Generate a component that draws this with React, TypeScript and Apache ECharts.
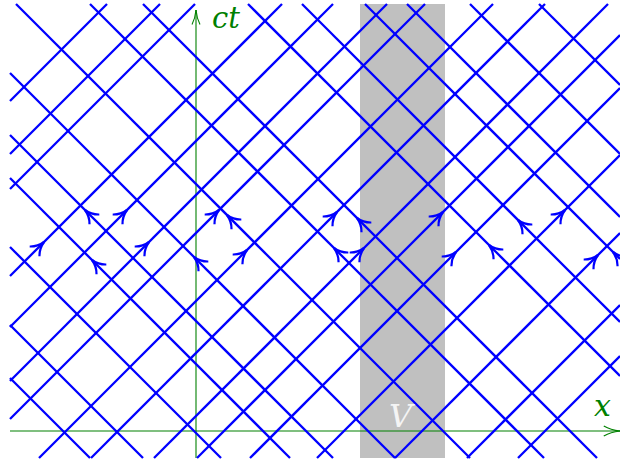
import React, { useEffect, useRef } from "react";
import * as echarts from "echarts";

// Visible window of the spacetime diagram (x, ct) in diagram units
const X_RANGE = [-186, 424];
const T_RANGE = [-27, 427];

// Right-moving light rays: x-intercept at ct = 0, and ct of the arrow tip (null = none)
const rightMovingX0 = [-516, -463, -428, -341, -290, -236, -198, -130, -78, -15, 28, 81, 148, 226, 298, 349];
const rightArrowT = [null, null, null, 189, 221, 189, 221, 181, 219, 183, 219, 179, 221, 176, null, null];

// Left-moving light rays: x-intercept at ct = 0, and ct of the arrow tip
const leftMovingX0 = [-133, -80, -2, 67, 110, 172, 247, 321, 374, 479, 533, 596, 638, 701, 770];
const leftArrowT = [null, null, null, 171, 221, 174, 216, 183, 213, 186, 211, 179, null, null, null];

// Region V (x-extent of the grey band)
const regionV = [164, 249];

// Axis extents
const axisXEnd = 424;
const axisTEnd = 421;

const BLUE = "#0000ff";
const GREEN = "#008000";

export default function App() {
  const ref = useRef<HTMLDivElement>(null);

  useEffect(() => {
    if (!ref.current) return;
    const chart = echarts.init(ref.current, undefined, { renderer: "svg" });

    const rays: number[][] = [
      ...rightMovingX0.map((x0) => [x0, 1]),
      ...leftMovingX0.map((x0) => [x0, -1]),
    ];
    const arrows: number[][] = [];
    rightMovingX0.forEach((x0, i) => {
      const t = rightArrowT[i];
      if (t != null) arrows.push([x0 + t, t, 1]);
    });
    leftMovingX0.forEach((x0, i) => {
      const t = leftArrowT[i];
      if (t != null) arrows.push([x0 - t, t, -1]);
    });

    const [xMin, xMax] = X_RANGE;
    const [tMin, tMax] = T_RANGE;

    const rayRender = (params: any, api: any) => {
      const x0 = api.value(0);
      const dir = api.value(1);
      let tLo: number, tHi: number, p1: number[], p2: number[];
      if (dir > 0) {
        tLo = Math.max(tMin, xMin - x0);
        tHi = Math.min(tMax, xMax - x0);
        p1 = api.coord([x0 + tLo, tLo]);
        p2 = api.coord([x0 + tHi, tHi]);
      } else {
        tLo = Math.max(tMin, x0 - xMax);
        tHi = Math.min(tMax, x0 - xMin);
        p1 = api.coord([x0 - tLo, tLo]);
        p2 = api.coord([x0 - tHi, tHi]);
      }
      if (tLo >= tHi) return { type: "group", children: [] };
      return {
        type: "line",
        shape: { x1: p1[0], y1: p1[1], x2: p2[0], y2: p2[1] },
        style: { stroke: BLUE, lineWidth: 2.3, lineCap: "butt" },
      };
    };

    const arrowHead = (tip: number[], ux: number, uy: number, len: number, ang: number, color: string, lw: number) => {
      const bx = -ux, by = -uy;
      const children: any[] = [];
      [ang, -ang].forEach((a) => {
        const c = Math.cos(a), s = Math.sin(a);
        const rx = bx * c - by * s;
        const ry = bx * s + by * c;
        const a2 = a * 0.35;
        const c2 = Math.cos(a2), s2 = Math.sin(a2);
        const qx = bx * c2 - by * s2;
        const qy = bx * s2 + by * c2;
        children.push({
          type: "bezierCurve",
          shape: {
            x1: tip[0], y1: tip[1],
            x2: tip[0] + rx * len, y2: tip[1] + ry * len,
            cpx1: tip[0] + qx * len * 0.55, cpy1: tip[1] + qy * len * 0.55,
          },
          style: { stroke: color, lineWidth: lw, fill: "none" },
        });
      });
      return children;
    };

    const arrowRender = (params: any, api: any) => {
      const p = api.coord([api.value(0), api.value(1)]);
      const dir = api.value(2);
      const r = Math.SQRT1_2;
      const ux = dir > 0 ? r : -r;
      const uy = -r;
      return { type: "group", children: arrowHead(p, ux, uy, 15, 0.48, BLUE, 2.2) };
    };

    const bandRender = (params: any, api: any) => {
      const a = api.coord([api.value(0), tMax]);
      const b = api.coord([api.value(1), tMin]);
      return {
        type: "rect",
        shape: { x: a[0], y: a[1], width: b[0] - a[0], height: b[1] - a[1] },
        style: { fill: "#c0c0c0" },
      };
    };

    const axesRender = (params: any, api: any) => {
      const o = api.coord([0, 0]);
      const xs = api.coord([xMin, 0]);
      const xe = api.coord([axisXEnd, 0]);
      const ts = api.coord([0, tMin]);
      const te = api.coord([0, axisTEnd]);
      const st = { stroke: GREEN, lineWidth: 1.1 };
      return {
        type: "group",
        children: [
          { type: "line", shape: { x1: xs[0], y1: o[1], x2: xe[0], y2: o[1] }, style: st },
          { type: "line", shape: { x1: o[0], y1: ts[1], x2: o[0], y2: te[1] }, style: st },
          ...arrowHead(xe, 1, 0, 17, 0.3, GREEN, 1.1),
          ...arrowHead(te, 0, -1, 15, 0.27, GREEN, 1.1),
        ],
      };
    };

    chart.setOption({
      animation: false,
      grid: { left: 10, right: 0, top: 4, bottom: 6, containLabel: false },
      xAxis: { type: "value", min: xMin, max: xMax, show: false },
      yAxis: { type: "value", min: tMin, max: tMax, show: false },
      series: [
        {
          type: "custom",
          z: 1,
          renderItem: bandRender,
          data: [[regionV[0], regionV[1]]],
          encode: { x: [0, 1] },
          silent: true,
        },
        {
          type: "custom",
          z: 2,
          renderItem: axesRender,
          data: [[0, 0]],
          silent: true,
        },
        {
          type: "custom",
          z: 3,
          renderItem: rayRender,
          data: rays,
          encode: { x: 0 },
          silent: true,
        },
        {
          type: "custom",
          z: 4,
          clip: true,
          renderItem: arrowRender,
          data: arrows,
          encode: { x: 0, y: 1 },
          silent: true,
        },
      ],
      graphic: [
        {
          type: "text",
          x: 212,
          y: 18,
          z: 10,
          style: {
            text: "ct",
            fill: GREEN,
            font: "italic 29px 'DejaVu Serif'",
            textAlign: "left",
            textVerticalAlign: "middle",
          },
        },
        {
          type: "text",
          x: 594,
          y: 405,
          z: 10,
          style: {
            text: "x",
            fill: GREEN,
            font: "italic 30px 'DejaVu Serif'",
            textAlign: "left",
            textVerticalAlign: "middle",
          },
        },
        {
          type: "text",
          x: 389,
          y: 416,
          z: 10,
          style: {
            text: "V",
            fill: "#f4f4f4",
            font: "italic 32px 'DejaVu Serif'",
            textAlign: "left",
            textVerticalAlign: "middle",
          },
        },
      ],
    });

    return () => chart.dispose();
  }, []);

  return (
    <div
      ref={ref}
      style={{ position: "absolute", left: 0, top: 0, width: 620, height: 464 }}
    />
  );
}
